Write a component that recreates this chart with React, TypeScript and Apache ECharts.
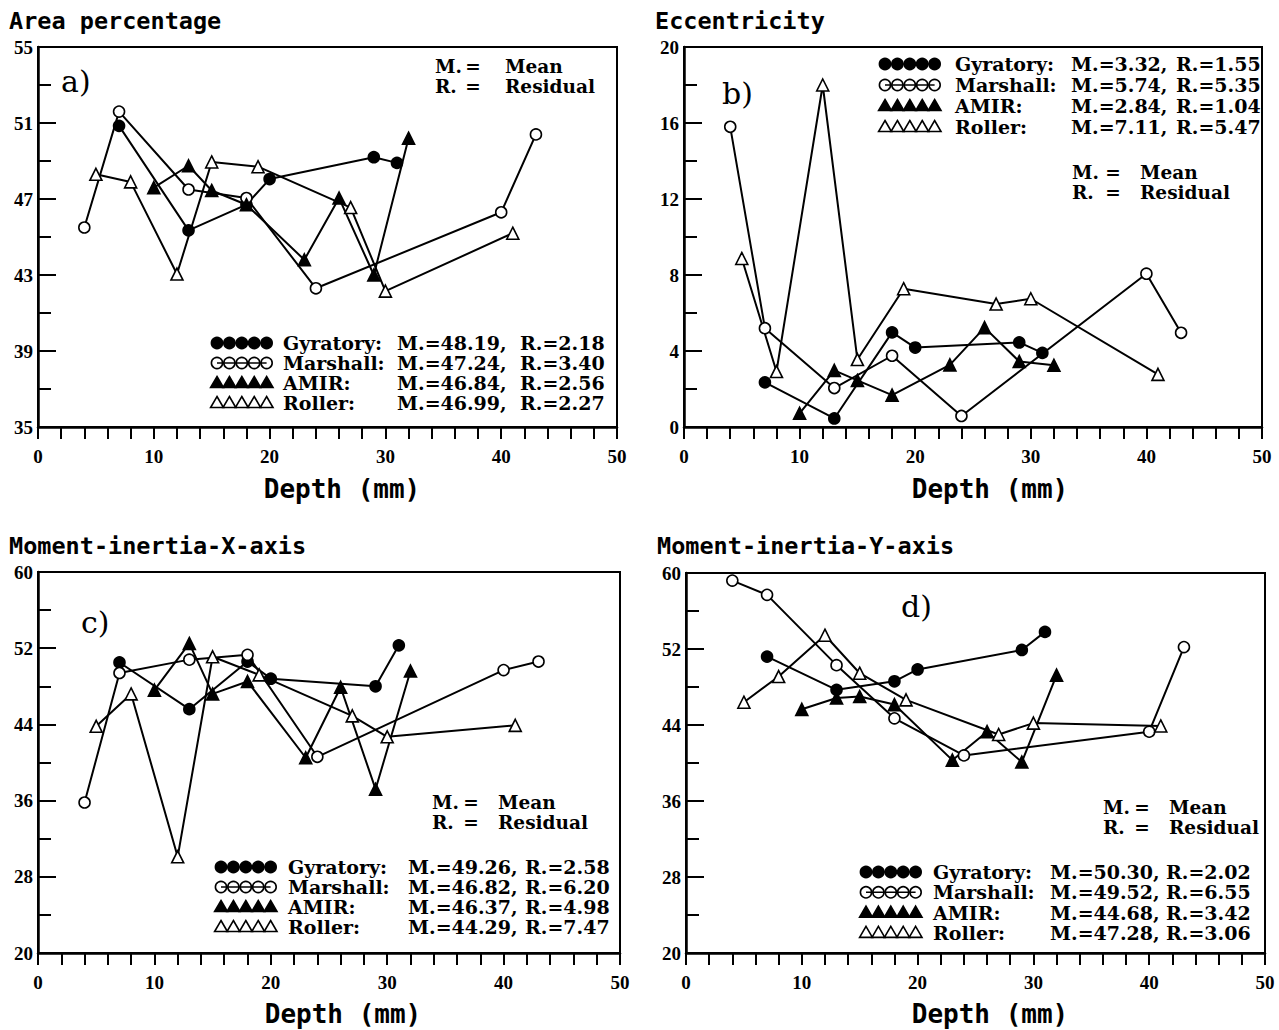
import React, { useEffect, useRef } from "react";
import * as echarts from "echarts";

// ---------------- DATA ----------------
const methods = ["Gyratory", "Marshall", "AMIR", "Roller"];

const depthGyratory = [7, 13, 18, 20, 29, 31];
const depthMarshall = [4, 7, 13, 18, 24, 40, 43];
const depthAmir = [10, 13, 15, 18, 23, 26, 29, 32];
const depthRoller = [5, 8, 12, 15, 19, 27, 30, 41];

// a) Area percentage
const areaGyratory = [50.85, 45.35, 46.7, 48.05, 49.2, 48.9];
const areaMarshall = [45.5, 51.6, 47.5, 47.05, 42.3, 46.3, 50.4];
const areaAmir = [47.6, 48.75, 47.45, 46.7, 43.8, 47.05, 43.0, 50.2];
const areaRoller = [48.3, 47.9, 43.05, 48.95, 48.7, 46.55, 42.15, 45.2];

// b) Eccentricity
const eccGyratory = [2.35, 0.45, 4.98, 4.18, 4.45, 3.9];
const eccMarshall = [15.8, 5.2, 2.05, 3.75, 0.58, 8.07, 4.96];
const eccAmir = [0.72, 2.98, 2.45, 1.68, 3.27, 5.23, 3.45, 3.25];
const eccRoller = [8.87, 2.92, 18.0, 3.55, 7.28, 6.47, 6.75, 2.77];

// c) Moment-inertia-X-axis
const mixGyratory = [50.5, 45.6, 50.6, 48.8, 48.0, 52.3];
const mixMarshall = [35.8, 49.4, 50.8, 51.3, 40.6, 49.7, 50.6];
const mixAmir = [47.6, 52.5, 47.2, 48.5, 40.5, 47.9, 37.2, 49.6];
const mixRoller = [43.8, 47.2, 30.1, 51.1, 49.2, 44.9, 42.7, 43.9];

// d) Moment-inertia-Y-axis
const miyGyratory = [51.2, 47.7, 48.6, 49.85, 51.9, 53.8];
const miyMarshall = [59.2, 57.7, 50.3, 44.7, 40.8, 43.3, 52.2];
const miyAmir = [45.65, 46.85, 47.0, 46.15, 40.3, 43.3, 40.1, 49.25];
const miyRoller = [46.4, 49.1, 53.45, 49.45, 46.65, 43.0, 44.2, 43.9];

const panelTitles = ["Area percentage", "Eccentricity", "Moment-inertia-X-axis", "Moment-inertia-Y-axis"];
const panelTags = ["a)", "b)", "c)", "d)"];
const xAxisName = "Depth (mm)";
const xMin = 0;
const xMax = 50;
const xInterval = 10;
const yMins = [35, 0, 20, 20];
const yMaxs = [55, 20, 60, 60];
const yIntervals = [4, 4, 8, 8];

const meanA = ["48.19", "47.24", "46.84", "46.99"];
const resA = ["2.18", "3.40", "2.56", "2.27"];
const meanB = ["3.32", "5.74", "2.84", "7.11"];
const resB = ["1.55", "5.35", "1.04", "5.47"];
const meanC = ["49.26", "46.82", "46.37", "44.29"];
const resC = ["2.58", "6.20", "4.98", "7.47"];
const meanD = ["50.30", "49.52", "44.68", "47.28"];
const resD = ["2.02", "6.55", "3.42", "3.06"];

const depths = [depthGyratory, depthMarshall, depthAmir, depthRoller];
const panelValues = [
  [areaGyratory, areaMarshall, areaAmir, areaRoller],
  [eccGyratory, eccMarshall, eccAmir, eccRoller],
  [mixGyratory, mixMarshall, mixAmir, mixRoller],
  [miyGyratory, miyMarshall, miyAmir, miyRoller],
];
const panelMeans = [meanA, meanB, meanC, meanD];
const panelRes = [resA, resB, resC, resD];

// ---------------- LAYOUT ----------------
const grids = [
  { left: 38, top: 47, width: 579, height: 380 },
  { left: 684, top: 47, width: 578, height: 380 },
  { left: 38, top: 572, width: 582, height: 381 },
  { left: 686, top: 573, width: 579, height: 380 },
];
const titlePos = [
  { x: 9, y: 21 },
  { x: 655, y: 21 },
  { x: 9, y: 546 },
  { x: 657, y: 546 },
];
const depthPos = [
  { x: 342, y: 489 },
  { x: 990, y: 489 },
  { x: 343, y: 1014 },
  { x: 990, y: 1014 },
];
const tagPos = [
  { x: 61, y: 81 },
  { x: 722, y: 93 },
  { x: 81, y: 622 },
  { x: 901, y: 606 },
];
const keyPos = [
  { mx: 435, eq: 473, wx: 505, y1: 66, y2: 86 },
  { mx: 1072, eq: 1113, wx: 1140, y1: 172, y2: 192 },
  { mx: 432, eq: 471, wx: 498, y1: 802, y2: 822 },
  { mx: 1103, eq: 1142, wx: 1169, y1: 807, y2: 827 },
];
const legendPos = [
  { markerX: 217, y0: 343, gap: 20, nameX: 283, mX: 397, rX: 520 },
  { markerX: 885, y0: 64, gap: 21, nameX: 955, mX: 1071, rX: 1176 },
  { markerX: 221, y0: 867, gap: 20, nameX: 288, mX: 408, rX: 525 },
  { markerX: 866, y0: 872, gap: 20.3, nameX: 933, mX: 1050, rX: 1166 },
];

const FONT_MONO = '"DejaVu Sans Mono", monospace';
const FONT_SERIF = '"DejaVu Serif", serif';
const FONT_TICK = '"Liberation Serif", serif';

const BLACK = "#000";

function txt(x: number, y: number, text: string, opts: any = {}) {
  const fs = opts.fontSize || 19;
  return {
    type: "text",
    x,
    y,
    silent: true,
    style: {
      text,
      fill: BLACK,
      fontFamily: opts.fontFamily || FONT_SERIF,
      fontSize: fs,
      lineHeight: opts.lineHeight || Math.round(fs * 0.85),
      fontWeight: opts.fontWeight || "bold",
      align: opts.align || "left",
      verticalAlign: "middle",
    },
  };
}

function buildGraphic() {
  const els: any[] = [];
  for (let p = 0; p < 4; p++) {
    els.push(txt(titlePos[p].x, titlePos[p].y, panelTitles[p], { fontFamily: FONT_MONO, fontSize: 23.5 }));
    els.push(txt(depthPos[p].x, depthPos[p].y, xAxisName, { fontFamily: FONT_MONO, fontSize: 26, align: "center" }));
    els.push(txt(tagPos[p].x, tagPos[p].y, panelTags[p], { fontFamily: FONT_SERIF, fontSize: 30, fontWeight: "normal" }));
    const k = keyPos[p];
    const kf = { fontSize: 18.5 };
    els.push(txt(k.mx, k.y1, "M.", kf));
    els.push(txt(k.eq, k.y1, "=", { ...kf, align: "center" }));
    els.push(txt(k.wx, k.y1, "Mean", kf));
    els.push(txt(k.mx, k.y2, "R.", kf));
    els.push(txt(k.eq, k.y2, "=", { ...kf, align: "center" }));
    els.push(txt(k.wx, k.y2, "Residual", kf));

    const L = legendPos[p];
    methods.forEach((m, i) => {
      const y = L.y0 + i * L.gap;
      const filled = i === 0 || i === 2;
      const tri = i >= 2;
      const xs = [0, 1, 2, 3, 4].map((j) => L.markerX + j * 12.4);
      const ly = tri ? y + 4 : y;
      const markers: any[] = [];
      xs.forEach((x) => {
        if (!tri) {
          markers.push({
            type: "circle",
            silent: true,
            shape: { cx: x, cy: y, r: 5.6 },
            style: { fill: filled ? BLACK : "none", stroke: BLACK, lineWidth: 1.6 },
          });
        } else {
          markers.push({
            type: "polygon",
            silent: true,
            shape: { points: [[x, y - 6.5], [x + 6.4, y + 4.5], [x - 6.4, y + 4.5]] },
            style: { fill: filled ? BLACK : "#fff", stroke: BLACK, lineWidth: 1.6 },
          });
        }
      });
      const line = { type: "line", silent: true, shape: { x1: xs[0], y1: ly, x2: xs[4], y2: ly }, style: { stroke: BLACK, lineWidth: 1.6 } };
      if (tri) {
        els.push(line, ...markers);
      } else {
        els.push(...markers, line);
      }
      const lf = { fontSize: 19 };
      els.push(txt(L.nameX, y, m + ":", lf));
      els.push(txt(L.mX, y, "M.=" + panelMeans[p][i] + ",", lf));
      els.push(txt(L.rX, y, "R.=" + panelRes[p][i], lf));
    });
  }
  return els;
}

function buildOption() {
  const grid = grids.map((g) => ({
    ...g,
    show: true,
    borderColor: BLACK,
    borderWidth: 2,
    backgroundColor: "transparent",
    containLabel: false,
  }));
  const tickStyle = { color: BLACK, width: 2 };
  const labelStyle = { color: BLACK, fontFamily: FONT_TICK, fontWeight: "bold", fontSize: 19 };
  const xAxis = grids.map((_, i) => ({
    type: "value",
    gridIndex: i,
    min: xMin,
    max: xMax,
    interval: xInterval,
    axisLine: { show: true, onZero: false, lineStyle: { color: BLACK, width: 2.5 } },
    axisTick: { show: true, inside: false, length: 12, lineStyle: tickStyle },
    minorTick: { show: true, splitNumber: 5, length: 12, lineStyle: tickStyle },
    splitLine: { show: false },
    minorSplitLine: { show: false },
    axisLabel: { ...labelStyle, margin: 20 },
  }));
  const yAxis = grids.map((_, i) => ({
    type: "value",
    gridIndex: i,
    min: yMins[i],
    max: yMaxs[i],
    interval: yIntervals[i],
    axisLine: { show: true, onZero: false, lineStyle: { color: BLACK, width: 2.5 } },
    axisTick: { show: true, inside: true, length: 18, lineStyle: tickStyle },
    minorTick: { show: true, splitNumber: 2, length: 13, lineStyle: tickStyle },
    splitLine: { show: false },
    minorSplitLine: { show: false },
    axisLabel: { ...labelStyle, margin: 5 },
  }));

  const styles = [
    { symbol: "circle", size: 11, fill: BLACK },
    { symbol: "circle", size: 11, fill: "#fff" },
    { symbol: "triangle", size: 12, fill: BLACK },
    { symbol: "triangle", size: 12, fill: "#fff" },
  ];
  const series: any[] = [];
  for (let p = 0; p < 4; p++) {
    for (let m = 0; m < 4; m++) {
      const st = styles[m];
      series.push({
        name: methods[m] + " " + panelTags[p],
        type: "line",
        xAxisIndex: p,
        yAxisIndex: p,
        data: depths[m].map((d, k) => [d, panelValues[p][m][k]]),
        symbol: st.symbol,
        symbolSize: st.size,
        showAllSymbol: true,
        lineStyle: { color: BLACK, width: 2 },
        itemStyle: { color: st.fill, borderColor: BLACK, borderWidth: 1.6 },
        emphasis: { disabled: true },
        z: 3,
      });
    }
  }

  return {
    animation: false,
    backgroundColor: "#fff",
    grid,
    xAxis,
    yAxis,
    series,
    graphic: buildGraphic(),
  };
}

export default function App() {
  const ref = useRef<HTMLDivElement>(null);
  useEffect(() => {
    if (!ref.current) return;
    const chart = echarts.init(ref.current, null, { renderer: "svg" });
    chart.setOption(buildOption() as any);
    return () => chart.dispose();
  }, []);
  return (
    <div
      ref={ref}
      style={{ position: "fixed", left: 0, top: 0, width: 1279, height: 1030, background: "#fff" }}
    />
  );
}
